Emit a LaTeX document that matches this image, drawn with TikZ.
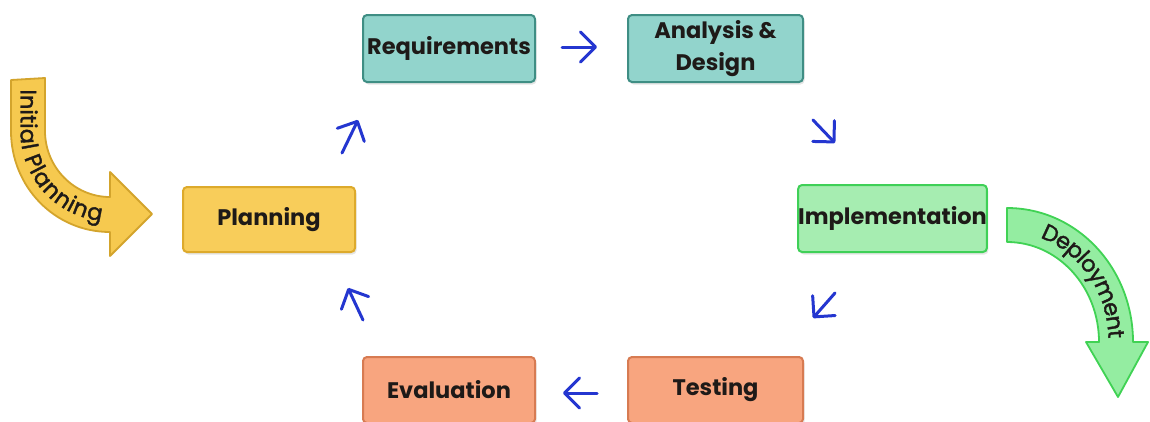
\documentclass[tikz,border=0pt]{standalone}
\usepackage{fontspec}
\setmainfont{Poppins}
\newfontfamily\bandfont{Poppins}[FakeBold=1.6]
\usetikzlibrary{arrows.meta,decorations.text,shadows}

\definecolor{ink}{HTML}{1E1A18}
\definecolor{flowblue}{HTML}{2436D0}
\definecolor{planfill}{HTML}{F8CD5A}
\definecolor{plandraw}{HTML}{DDAA2C}
\definecolor{tealfill}{HTML}{92D4CC}
\definecolor{tealdraw}{HTML}{3F8E84}
\definecolor{implfill}{HTML}{A6EDB1}
\definecolor{impldraw}{HTML}{3FD057}
\definecolor{salmfill}{HTML}{F8A57F}
\definecolor{salmdraw}{HTML}{D77B52}
\definecolor{initfill}{HTML}{F6C94F}
\definecolor{initdraw}{HTML}{D3A42C}
\definecolor{depfill}{HTML}{94EDA1}
\definecolor{depdraw}{HTML}{40D254}

\begin{document}
\begin{tikzpicture}[x=1pt,y=-1pt,
  stage/.style={draw, line width=2pt, rounded corners=4pt, align=center,
    inner sep=0pt, text=ink,
    font=\fontsize{22.5}{32}\selectfont\bfseries,
    drop shadow={opacity=0.2, shadow xshift=1.5pt, shadow yshift=-2.5pt}},
  plan/.style={stage, fill=planfill, draw=plandraw},
  teal/.style={stage, fill=tealfill, draw=tealdraw},
  impl/.style={stage, fill=implfill, draw=impldraw},
  salm/.style={stage, fill=salmfill, draw=salmdraw},
  flow/.style={draw=flowblue, line width=3pt, line cap=round, line join=round,
    -{Straight Barb[length=15pt, width=30pt, line cap=round, line join=round]}},
  bentarrow/.style={line width=1.8pt, line join=round},
  bendtext/.style={decorate, decoration={text along path, text align=center,
    raise=-7.5pt, text color=ink}}
]
% canvas
\fill[white] (0,0) rectangle (1150,421);
\useasboundingbox (0,0) rectangle (1150,421);

% entry arrow
\draw[bentarrow, fill=initfill, draw=initdraw]
  (11,80) -- (11,131) .. controls (11,187) and (55,232) .. (110,232)
  -- (110,256) -- (152,214) -- (110,172) -- (110,197)
  .. controls (74,197) and (45,167) .. (45,131) -- (45,78) -- cycle;
\path[bendtext, decoration={text={|\bandfont\fontsize{22.5}{22.5}\selectfont|Initial Planning}}]
  (28,80) -- (28,131) .. controls (28,177) and (64,214) .. (112,214);

% exit arrow
\draw[bentarrow, fill=depfill, draw=depdraw]
  (1007,208) .. controls (1077,208) and (1133,268) .. (1133,342)
  -- (1148,342) -- (1118,397) -- (1086,342) -- (1099,342)
  .. controls (1099,287) and (1058,242) .. (1007,242) -- cycle;
\path[bendtext, decoration={text={|\bandfont\fontsize{22.5}{22.5}\selectfont|Deployment}}]
  (1010,225) .. controls (1068,225) and (1116,277) .. (1116,342) -- (1116,372);

% stages
\node[plan, minimum width=172pt, minimum height=65pt] (planning) at (269,219.5) {Planning};
\node[teal, minimum width=172pt, minimum height=67pt] (req) at (449,48.5) {Requirements};
\node[teal, minimum width=175pt, minimum height=67pt] (ana) at (715.5,48.5) {Analysis \&\\Design};
\node[impl, minimum width=181pt, minimum height=67pt] (impl) at (892.5,218.5) {Implementation};
\node[salm, minimum width=175pt, minimum height=66pt] (test) at (715.5,390) {Testing};
\node[salm, minimum width=172pt, minimum height=66pt] (eval) at (449,390) {Evaluation};

% cycle arrows
\coordinate (f1a) at (562,47);  \coordinate (f1b) at (597,47);
\coordinate (f2a) at (813,120); \coordinate (f2b) at (835,143);
\coordinate (f3a) at (835,293); \coordinate (f3b) at (813,318);
\coordinate (f4a) at (597,393); \coordinate (f4b) at (563,393);
\coordinate (f5a) at (363,320); \coordinate (f5b) at (348,288);
\coordinate (f6a) at (342,153); \coordinate (f6b) at (358,120);
\draw[flow] (f1a) -- (f1b);
\draw[flow] (f2a) -- (f2b);
\draw[flow] (f3a) -- (f3b);
\draw[flow] (f4a) -- (f4b);
\draw[flow] (f5a) -- (f5b);
\draw[flow] (f6a) -- (f6b);
\end{tikzpicture}
\end{document}
